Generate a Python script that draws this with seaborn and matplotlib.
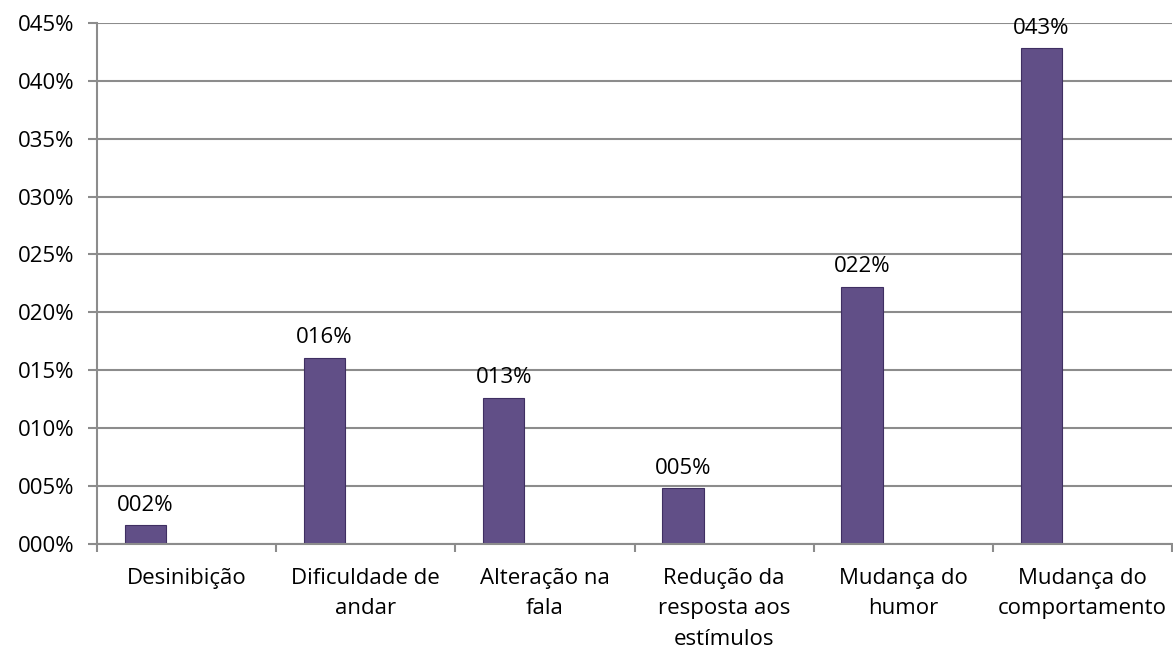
import numpy as np
import pandas as pd
import matplotlib
matplotlib.use("Agg")
import matplotlib.pyplot as plt
import seaborn as sns

categories = [
    "Desinibição",
    "Dificuldade de\nandar",
    "Alteração na\nfala",
    "Redução da\nresposta aos\nestímulos",
    "Mudança do\nhumor",
    "Mudança do\ncomportamento",
]
values = [0.016, 0.161, 0.126, 0.048, 0.222, 0.428]
series = ["S1", "S2", "S3"]  # only the first series holds data

sns.set_theme(style="white")
plt.rcParams["font.family"] = ["Open Sans", "DejaVu Sans"]

df = pd.DataFrame({
    "cat": categories,
    "val": values,
    "serie": series[0],
})

fig = plt.figure(figsize=(11.73, 6.53), dpi=100)
ax = fig.add_axes([0.0827, 0.167, 0.9165, 0.798])

sns.barplot(
    data=df,
    x="cat",
    y="val",
    hue="serie",
    hue_order=series,
    order=categories,
    palette=["#5e4690", "#5e4690", "#5e4690"],
    width=0.69,
    dodge=True,
    edgecolor="#3f2f62",
    linewidth=0.8,
    legend=False,
    ax=ax,
)

ax.bar_label(
    ax.containers[0],
    labels=["%03d%%" % round(v * 100) for v in values],
    padding=7,
    fontsize=16,
    color="#000000",
)

ax.set_ylim(0, 0.45)
ax.set_xlim(-0.5, 5.5)
yt = np.arange(0, 0.451, 0.05)
ax.set_yticks(yt)
ax.set_yticklabels(["%03d%%" % round(t * 100) for t in yt], fontsize=16, color="#000000")
ax.yaxis.grid(True, color="#8c8c8c", linewidth=1.5)
ax.set_axisbelow(True)

ax.set_xticks(range(len(categories)))
ax.set_xticklabels(categories, fontsize=16, color="#000000", linespacing=1.62)
ax.set_xticks(np.arange(-0.5, 5.6, 1), minor=True)
ax.tick_params(axis="x", which="major", length=0, pad=17)
ax.tick_params(axis="x", which="minor", length=6, width=1.5, color="#8c8c8c", direction="out", bottom=True)
ax.tick_params(axis="y", length=6.5, width=1.5, color="#8c8c8c", direction="out", left=True, pad=10)

for s in ["top", "right"]:
    ax.spines[s].set_visible(False)
for s in ["left", "bottom"]:
    ax.spines[s].set_color("#8c8c8c")
    ax.spines[s].set_linewidth(1.5)

ax.set_xlabel("")
ax.set_ylabel("")

fig.savefig("out.png", dpi=100)
